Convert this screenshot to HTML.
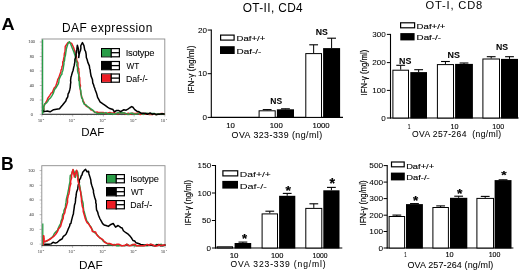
<!DOCTYPE html>
<html><head><meta charset="utf-8"><title>DAF figure</title>
<style>
html,body{margin:0;padding:0;background:#fff;width:520px;height:273px;overflow:hidden}
svg{display:block;filter:blur(0.3px)}
text{font-family:"Liberation Sans", sans-serif;}
</style></head><body>
<svg width="520" height="273" viewBox="0 0 520 273">
<rect x="0" y="0" width="520" height="273" fill="#fff"/>
<text x="1.54" y="30.40" font-size="17.39" font-weight="bold" textLength="13.15" lengthAdjust="spacingAndGlyphs" fill="#000" xml:space="preserve">A</text>
<text x="1.06" y="170.00" font-size="17.68" font-weight="bold" textLength="12.67" lengthAdjust="spacingAndGlyphs" fill="#000" xml:space="preserve">B</text>
<text x="62.05" y="32.20" font-size="11.86" textLength="90.21" lengthAdjust="spacing" fill="#000" xml:space="preserve">DAF expression</text>
<rect x="42" y="39" width="122.80000000000001" height="75.3" fill="none" stroke="#8c8c8c" stroke-width="0.9"/>
<text x="28.59" y="43.20" font-size="3.43" textLength="6.29" lengthAdjust="spacingAndGlyphs" fill="#6a6a6a" stroke="#6a6a6a" stroke-width="0.12" xml:space="preserve">100</text>
<line x1="39.80" y1="42.00" x2="42.00" y2="42.00" stroke="#888" stroke-width="0.6"/>
<text x="29.70" y="57.70" font-size="3.43" textLength="4.20" lengthAdjust="spacingAndGlyphs" fill="#6a6a6a" stroke="#6a6a6a" stroke-width="0.12" xml:space="preserve">80</text>
<line x1="39.80" y1="56.50" x2="42.00" y2="56.50" stroke="#888" stroke-width="0.6"/>
<text x="29.69" y="72.20" font-size="3.43" textLength="4.20" lengthAdjust="spacingAndGlyphs" fill="#6a6a6a" stroke="#6a6a6a" stroke-width="0.12" xml:space="preserve">60</text>
<line x1="39.80" y1="71.00" x2="42.00" y2="71.00" stroke="#888" stroke-width="0.6"/>
<text x="29.74" y="86.70" font-size="3.43" textLength="4.20" lengthAdjust="spacingAndGlyphs" fill="#6a6a6a" stroke="#6a6a6a" stroke-width="0.12" xml:space="preserve">40</text>
<line x1="39.80" y1="85.50" x2="42.00" y2="85.50" stroke="#888" stroke-width="0.6"/>
<text x="29.69" y="101.20" font-size="3.43" textLength="4.20" lengthAdjust="spacingAndGlyphs" fill="#6a6a6a" stroke="#6a6a6a" stroke-width="0.12" xml:space="preserve">20</text>
<line x1="39.80" y1="100.00" x2="42.00" y2="100.00" stroke="#888" stroke-width="0.6"/>
<text x="30.75" y="115.50" font-size="3.43" textLength="2.10" lengthAdjust="spacingAndGlyphs" fill="#6a6a6a" stroke="#6a6a6a" stroke-width="0.12" xml:space="preserve">0</text>
<line x1="39.80" y1="114.30" x2="42.00" y2="114.30" stroke="#888" stroke-width="0.6"/>
<line x1="40.70" y1="45.62" x2="42.00" y2="45.62" stroke="#aaa" stroke-width="0.5"/>
<line x1="40.70" y1="49.25" x2="42.00" y2="49.25" stroke="#aaa" stroke-width="0.5"/>
<line x1="40.70" y1="52.88" x2="42.00" y2="52.88" stroke="#aaa" stroke-width="0.5"/>
<line x1="40.70" y1="60.12" x2="42.00" y2="60.12" stroke="#aaa" stroke-width="0.5"/>
<line x1="40.70" y1="63.75" x2="42.00" y2="63.75" stroke="#aaa" stroke-width="0.5"/>
<line x1="40.70" y1="67.38" x2="42.00" y2="67.38" stroke="#aaa" stroke-width="0.5"/>
<line x1="40.70" y1="74.62" x2="42.00" y2="74.62" stroke="#aaa" stroke-width="0.5"/>
<line x1="40.70" y1="78.25" x2="42.00" y2="78.25" stroke="#aaa" stroke-width="0.5"/>
<line x1="40.70" y1="81.88" x2="42.00" y2="81.88" stroke="#aaa" stroke-width="0.5"/>
<line x1="40.70" y1="89.12" x2="42.00" y2="89.12" stroke="#aaa" stroke-width="0.5"/>
<line x1="40.70" y1="92.75" x2="42.00" y2="92.75" stroke="#aaa" stroke-width="0.5"/>
<line x1="40.70" y1="96.38" x2="42.00" y2="96.38" stroke="#aaa" stroke-width="0.5"/>
<line x1="40.70" y1="103.58" x2="42.00" y2="103.58" stroke="#aaa" stroke-width="0.5"/>
<line x1="40.70" y1="107.15" x2="42.00" y2="107.15" stroke="#aaa" stroke-width="0.5"/>
<line x1="40.70" y1="110.72" x2="42.00" y2="110.72" stroke="#aaa" stroke-width="0.5"/>
<text x="38.04" y="122.00" font-size="3.14" textLength="4.20" lengthAdjust="spacingAndGlyphs" fill="#7a7a7a" stroke="#7a7a7a" stroke-width="0.12" xml:space="preserve">10</text>
<text x="42.89" y="120.05" font-size="2.14" textLength="1.43" lengthAdjust="spacingAndGlyphs" fill="#7a7a7a" stroke="#7a7a7a" stroke-width="0.12" xml:space="preserve">0</text>
<line x1="42.00" y1="114.30" x2="42.00" y2="116.50" stroke="#888" stroke-width="0.6"/>
<line x1="51.24" y1="114.30" x2="51.24" y2="115.50" stroke="#aaa" stroke-width="0.5"/>
<line x1="56.65" y1="114.30" x2="56.65" y2="115.50" stroke="#aaa" stroke-width="0.5"/>
<line x1="60.48" y1="114.30" x2="60.48" y2="115.50" stroke="#aaa" stroke-width="0.5"/>
<line x1="63.46" y1="114.30" x2="63.46" y2="115.50" stroke="#aaa" stroke-width="0.5"/>
<line x1="65.89" y1="114.30" x2="65.89" y2="115.50" stroke="#aaa" stroke-width="0.5"/>
<line x1="67.94" y1="114.30" x2="67.94" y2="115.50" stroke="#aaa" stroke-width="0.5"/>
<line x1="69.72" y1="114.30" x2="69.72" y2="115.50" stroke="#aaa" stroke-width="0.5"/>
<line x1="71.30" y1="114.30" x2="71.30" y2="115.50" stroke="#aaa" stroke-width="0.5"/>
<text x="68.74" y="122.00" font-size="3.14" textLength="4.20" lengthAdjust="spacingAndGlyphs" fill="#7a7a7a" stroke="#7a7a7a" stroke-width="0.12" xml:space="preserve">10</text>
<text x="73.54" y="120.05" font-size="2.17" textLength="1.45" lengthAdjust="spacingAndGlyphs" fill="#7a7a7a" stroke="#7a7a7a" stroke-width="0.12" xml:space="preserve">1</text>
<line x1="72.70" y1="114.30" x2="72.70" y2="116.50" stroke="#888" stroke-width="0.6"/>
<line x1="81.94" y1="114.30" x2="81.94" y2="115.50" stroke="#aaa" stroke-width="0.5"/>
<line x1="87.35" y1="114.30" x2="87.35" y2="115.50" stroke="#aaa" stroke-width="0.5"/>
<line x1="91.18" y1="114.30" x2="91.18" y2="115.50" stroke="#aaa" stroke-width="0.5"/>
<line x1="94.16" y1="114.30" x2="94.16" y2="115.50" stroke="#aaa" stroke-width="0.5"/>
<line x1="96.59" y1="114.30" x2="96.59" y2="115.50" stroke="#aaa" stroke-width="0.5"/>
<line x1="98.64" y1="114.30" x2="98.64" y2="115.50" stroke="#aaa" stroke-width="0.5"/>
<line x1="100.42" y1="114.30" x2="100.42" y2="115.50" stroke="#aaa" stroke-width="0.5"/>
<line x1="102.00" y1="114.30" x2="102.00" y2="115.50" stroke="#aaa" stroke-width="0.5"/>
<text x="99.44" y="122.00" font-size="3.14" textLength="4.20" lengthAdjust="spacingAndGlyphs" fill="#7a7a7a" stroke="#7a7a7a" stroke-width="0.12" xml:space="preserve">10</text>
<text x="104.29" y="120.05" font-size="2.14" textLength="1.43" lengthAdjust="spacingAndGlyphs" fill="#7a7a7a" stroke="#7a7a7a" stroke-width="0.12" xml:space="preserve">2</text>
<line x1="103.40" y1="114.30" x2="103.40" y2="116.50" stroke="#888" stroke-width="0.6"/>
<line x1="112.64" y1="114.30" x2="112.64" y2="115.50" stroke="#aaa" stroke-width="0.5"/>
<line x1="118.05" y1="114.30" x2="118.05" y2="115.50" stroke="#aaa" stroke-width="0.5"/>
<line x1="121.88" y1="114.30" x2="121.88" y2="115.50" stroke="#aaa" stroke-width="0.5"/>
<line x1="124.86" y1="114.30" x2="124.86" y2="115.50" stroke="#aaa" stroke-width="0.5"/>
<line x1="127.29" y1="114.30" x2="127.29" y2="115.50" stroke="#aaa" stroke-width="0.5"/>
<line x1="129.34" y1="114.30" x2="129.34" y2="115.50" stroke="#aaa" stroke-width="0.5"/>
<line x1="131.12" y1="114.30" x2="131.12" y2="115.50" stroke="#aaa" stroke-width="0.5"/>
<line x1="132.70" y1="114.30" x2="132.70" y2="115.50" stroke="#aaa" stroke-width="0.5"/>
<text x="130.14" y="122.00" font-size="3.14" textLength="4.20" lengthAdjust="spacingAndGlyphs" fill="#7a7a7a" stroke="#7a7a7a" stroke-width="0.12" xml:space="preserve">10</text>
<text x="134.99" y="120.05" font-size="2.14" textLength="1.43" lengthAdjust="spacingAndGlyphs" fill="#7a7a7a" stroke="#7a7a7a" stroke-width="0.12" xml:space="preserve">3</text>
<line x1="134.10" y1="114.30" x2="134.10" y2="116.50" stroke="#888" stroke-width="0.6"/>
<line x1="143.34" y1="114.30" x2="143.34" y2="115.50" stroke="#aaa" stroke-width="0.5"/>
<line x1="148.75" y1="114.30" x2="148.75" y2="115.50" stroke="#aaa" stroke-width="0.5"/>
<line x1="152.58" y1="114.30" x2="152.58" y2="115.50" stroke="#aaa" stroke-width="0.5"/>
<line x1="155.56" y1="114.30" x2="155.56" y2="115.50" stroke="#aaa" stroke-width="0.5"/>
<line x1="157.99" y1="114.30" x2="157.99" y2="115.50" stroke="#aaa" stroke-width="0.5"/>
<line x1="160.04" y1="114.30" x2="160.04" y2="115.50" stroke="#aaa" stroke-width="0.5"/>
<line x1="161.82" y1="114.30" x2="161.82" y2="115.50" stroke="#aaa" stroke-width="0.5"/>
<line x1="163.40" y1="114.30" x2="163.40" y2="115.50" stroke="#aaa" stroke-width="0.5"/>
<text x="160.84" y="122.00" font-size="3.14" textLength="4.20" lengthAdjust="spacingAndGlyphs" fill="#7a7a7a" stroke="#7a7a7a" stroke-width="0.12" xml:space="preserve">10</text>
<text x="165.68" y="120.05" font-size="2.17" textLength="1.45" lengthAdjust="spacingAndGlyphs" fill="#7a7a7a" stroke="#7a7a7a" stroke-width="0.12" xml:space="preserve">4</text>
<line x1="164.80" y1="114.30" x2="164.80" y2="116.50" stroke="#888" stroke-width="0.6"/>
<line x1="42.00" y1="114.30" x2="164.80" y2="114.30" stroke="#333" stroke-width="1.0"/>
<polyline points="43.40,112.00 43.92,109.01 43.76,107.81 44.16,104.99 45.11,103.77 46.16,101.97 47.15,100.20 47.64,98.47 49.66,95.60 51.32,92.91 52.26,92.62 54.13,87.95 55.61,86.49 57.14,82.09 57.75,79.45 58.70,77.89 60.01,73.92 60.77,71.89 61.06,70.02 61.81,69.01 61.91,66.66 62.76,65.29 62.75,61.72 63.39,60.80 63.54,59.19 64.09,56.66 64.40,53.38 64.95,52.09 65.13,49.34 65.25,46.43 65.74,45.74 68.04,42.51 69.63,42.57 71.76,43.47 73.50,47.32 74.72,51.04 75.16,53.88 76.35,55.98 76.73,59.67 76.90,60.61 77.95,62.80 77.93,65.29 78.01,67.45 78.83,68.82 78.77,70.94 79.13,72.38 78.92,75.86 79.69,77.79 79.81,80.22 79.83,82.32 79.95,84.11 80.47,85.58 80.18,88.88 80.59,91.13 80.69,93.24 81.44,95.49 81.87,97.55 82.26,98.43 83.06,100.62 84.81,104.15 86.43,106.33 89.45,107.56 90.80,109.91 92.65,110.33 94.82,112.41 97.09,112.00 98.94,112.57 101.52,112.39 103.59,112.55 105.97,113.68 107.98,113.02 109.92,112.53 111.78,113.29 114.29,112.77 115.79,113.53 118.23,113.75 119.65,112.74 122.16,112.98 124.15,113.02 126.03,113.98 128.34,113.17 130.01,114.23 132.11,113.21 134.05,113.54 136.09,113.42 137.85,112.97 140.27,114.62 142.26,113.45 144.32,113.48 145.94,114.28 147.65,113.41 149.67,114.55 152.33,114.47 153.76,114.04 156.34,114.59 158.01,114.31 159.89,113.74 162.13,113.45 164.00,114.00" fill="none" stroke="#ee1c24" stroke-width="1.45" stroke-linejoin="round" stroke-linecap="round"/>
<polyline points="43.40,112.00 43.99,110.49 43.63,106.54 44.37,105.60 44.76,103.81 46.58,102.89 47.75,101.35 48.72,99.48 50.66,97.70 51.83,95.81 53.23,93.40 54.56,89.56 56.37,87.24 58.28,83.98 58.79,81.95 59.16,79.13 60.74,75.69 61.96,74.02 61.97,72.31 62.78,70.71 63.23,68.42 63.51,66.47 64.01,63.74 63.79,62.83 64.55,60.46 64.79,57.60 65.44,55.32 65.74,53.00 66.14,50.67 66.21,49.59 66.90,46.92 67.99,43.50 69.37,41.70 70.76,44.26 72.33,48.23 73.86,51.94 74.85,54.92 75.41,57.01 75.93,59.27 76.12,60.66 77.11,63.02 76.79,65.22 77.56,67.58 77.48,69.73 77.68,71.44 78.14,73.28 78.75,74.75 78.68,76.77 78.66,80.36 79.29,81.44 79.36,84.06 79.50,85.68 80.12,88.26 80.73,90.42 80.97,92.65 81.17,94.56 81.65,97.91 82.59,98.71 82.67,100.99 84.35,104.38 86.09,104.97 89.37,108.21 90.98,108.90 92.96,110.36 95.17,112.43 97.18,113.42 99.40,113.50 101.30,112.95 103.62,113.44 105.96,112.58 107.73,114.02 109.92,113.54 111.74,113.46 113.83,114.30 115.94,113.71 118.04,112.69 119.68,112.95 121.76,112.78 124.10,112.91 126.35,113.67 128.36,114.45 129.96,113.21 132.07,113.26 134.22,113.95 135.82,114.12 138.02,113.63 139.67,112.89 141.72,113.64 143.81,114.22 145.77,113.12 147.80,113.37 149.97,113.91 152.10,113.55 154.29,113.39 156.16,114.76 158.01,113.83 159.68,114.11 162.02,113.83 164.00,114.00" fill="none" stroke="#2a9d48" stroke-width="1.45" stroke-linejoin="round" stroke-linecap="round"/>
<polyline points="42.60,110.40 44.22,111.63 47.26,111.02 50.06,111.78 53.59,109.72 56.35,109.26 59.48,108.69 61.49,106.27 62.40,105.19 64.81,102.19 65.84,101.03 66.46,98.99 67.75,96.86 68.09,93.97 68.98,92.51 69.71,89.96 70.24,87.60 70.44,84.72 70.78,82.36 70.57,80.53 70.99,76.99 71.46,75.65 72.24,72.78 73.14,70.21 73.60,67.79 74.13,65.92 74.49,63.85 74.87,61.90 74.91,59.21 75.86,57.04 76.14,54.67 76.29,51.85 76.84,49.46 77.36,45.20 78.22,48.25 78.47,49.42 78.34,52.21 78.92,54.38 78.74,57.52 79.15,54.66 79.71,52.31 80.47,50.53 80.88,48.01 80.76,45.73 82.44,42.54 83.95,45.58 84.71,49.85 85.61,51.49 86.16,54.31 86.33,57.56 87.11,59.54 87.85,62.40 89.37,65.88 89.68,68.44 90.17,69.75 90.31,71.51 90.81,74.57 91.08,76.17 91.94,78.18 92.51,79.83 92.75,82.89 93.58,84.80 94.12,86.80 94.93,88.76 95.15,89.73 96.43,92.95 96.91,94.65 97.60,97.43 98.75,99.46 100.05,101.82 102.93,103.92 105.14,105.38 107.83,107.40 109.84,108.53 111.35,108.93 113.01,109.56 114.38,111.78 116.46,110.50 118.47,110.47 120.61,111.70 123.88,109.77 126.12,110.14 128.29,108.82 129.83,107.74 131.69,106.63 132.93,107.26 134.68,109.63 136.81,111.18 139.08,111.78 141.37,113.31 143.75,113.28 145.77,113.44 147.65,114.19 150.11,112.96 152.15,114.23 154.15,113.66 155.76,114.40 158.13,114.19 159.97,114.13 161.89,113.65 164.00,114.00" fill="none" stroke="#000" stroke-width="1.5" stroke-linejoin="round" stroke-linecap="round"/>
<line x1="42.60" y1="39.50" x2="42.60" y2="114.00" stroke="#2a9d48" stroke-width="1.3"/>
<rect x="101.60" y="48.60" width="17.80" height="8.20" fill="#fff" stroke="#000" stroke-width="1.2"/>
<rect x="102.00" y="49.00" width="9.00" height="7.40" fill="#2a9d48"/>
<line x1="111.20" y1="48.00" x2="111.20" y2="57.40" stroke="#000" stroke-width="1.3"/>
<line x1="111.00" y1="52.70" x2="120.00" y2="52.70" stroke="#000" stroke-width="1.3"/>
<text x="125.75" y="56.00" font-size="9.42" textLength="28.66" lengthAdjust="spacing" fill="#000" stroke="#000" stroke-width="0.05" xml:space="preserve">Isotype</text>
<rect x="101.60" y="61.50" width="17.80" height="8.20" fill="#fff" stroke="#000" stroke-width="1.2"/>
<rect x="102.00" y="61.90" width="9.00" height="7.40" fill="#000"/>
<line x1="111.20" y1="60.90" x2="111.20" y2="70.30" stroke="#000" stroke-width="1.3"/>
<line x1="111.00" y1="65.60" x2="120.00" y2="65.60" stroke="#000" stroke-width="1.3"/>
<text x="126.56" y="68.60" font-size="8.99" textLength="12.80" lengthAdjust="spacingAndGlyphs" fill="#000" stroke="#000" stroke-width="0.05" xml:space="preserve">WT</text>
<rect x="101.60" y="74.00" width="17.80" height="8.20" fill="#fff" stroke="#000" stroke-width="1.2"/>
<rect x="102.00" y="74.40" width="9.00" height="7.40" fill="#ee1c24"/>
<line x1="111.20" y1="73.40" x2="111.20" y2="82.80" stroke="#000" stroke-width="1.3"/>
<line x1="111.00" y1="78.10" x2="120.00" y2="78.10" stroke="#000" stroke-width="1.3"/>
<text x="125.90" y="81.60" font-size="8.83" textLength="21.90" lengthAdjust="spacingAndGlyphs" fill="#000" stroke="#000" stroke-width="0.05" xml:space="preserve">Daf-/-</text>
<text x="81.28" y="136.40" font-size="11.74" textLength="22.98" lengthAdjust="spacingAndGlyphs" fill="#000" xml:space="preserve">DAF</text>
<rect x="41.8" y="165.7" width="123.2" height="79.9" fill="none" stroke="#8c8c8c" stroke-width="0.9"/>
<text x="28.39" y="171.80" font-size="3.43" textLength="6.29" lengthAdjust="spacingAndGlyphs" fill="#6a6a6a" stroke="#6a6a6a" stroke-width="0.12" xml:space="preserve">100</text>
<line x1="39.60" y1="170.60" x2="41.80" y2="170.60" stroke="#888" stroke-width="0.6"/>
<text x="29.50" y="186.50" font-size="3.43" textLength="4.20" lengthAdjust="spacingAndGlyphs" fill="#6a6a6a" stroke="#6a6a6a" stroke-width="0.12" xml:space="preserve">80</text>
<line x1="39.60" y1="185.30" x2="41.80" y2="185.30" stroke="#888" stroke-width="0.6"/>
<text x="29.49" y="201.20" font-size="3.43" textLength="4.20" lengthAdjust="spacingAndGlyphs" fill="#6a6a6a" stroke="#6a6a6a" stroke-width="0.12" xml:space="preserve">60</text>
<line x1="39.60" y1="200.00" x2="41.80" y2="200.00" stroke="#888" stroke-width="0.6"/>
<text x="29.54" y="215.90" font-size="3.43" textLength="4.20" lengthAdjust="spacingAndGlyphs" fill="#6a6a6a" stroke="#6a6a6a" stroke-width="0.12" xml:space="preserve">40</text>
<line x1="39.60" y1="214.70" x2="41.80" y2="214.70" stroke="#888" stroke-width="0.6"/>
<text x="29.49" y="230.60" font-size="3.43" textLength="4.20" lengthAdjust="spacingAndGlyphs" fill="#6a6a6a" stroke="#6a6a6a" stroke-width="0.12" xml:space="preserve">20</text>
<line x1="39.60" y1="229.40" x2="41.80" y2="229.40" stroke="#888" stroke-width="0.6"/>
<text x="30.55" y="245.30" font-size="3.43" textLength="2.10" lengthAdjust="spacingAndGlyphs" fill="#6a6a6a" stroke="#6a6a6a" stroke-width="0.12" xml:space="preserve">0</text>
<line x1="39.60" y1="244.10" x2="41.80" y2="244.10" stroke="#888" stroke-width="0.6"/>
<line x1="40.50" y1="174.28" x2="41.80" y2="174.28" stroke="#aaa" stroke-width="0.5"/>
<line x1="40.50" y1="177.95" x2="41.80" y2="177.95" stroke="#aaa" stroke-width="0.5"/>
<line x1="40.50" y1="181.62" x2="41.80" y2="181.62" stroke="#aaa" stroke-width="0.5"/>
<line x1="40.50" y1="188.98" x2="41.80" y2="188.98" stroke="#aaa" stroke-width="0.5"/>
<line x1="40.50" y1="192.65" x2="41.80" y2="192.65" stroke="#aaa" stroke-width="0.5"/>
<line x1="40.50" y1="196.32" x2="41.80" y2="196.32" stroke="#aaa" stroke-width="0.5"/>
<line x1="40.50" y1="203.68" x2="41.80" y2="203.68" stroke="#aaa" stroke-width="0.5"/>
<line x1="40.50" y1="207.35" x2="41.80" y2="207.35" stroke="#aaa" stroke-width="0.5"/>
<line x1="40.50" y1="211.02" x2="41.80" y2="211.02" stroke="#aaa" stroke-width="0.5"/>
<line x1="40.50" y1="218.38" x2="41.80" y2="218.38" stroke="#aaa" stroke-width="0.5"/>
<line x1="40.50" y1="222.05" x2="41.80" y2="222.05" stroke="#aaa" stroke-width="0.5"/>
<line x1="40.50" y1="225.72" x2="41.80" y2="225.72" stroke="#aaa" stroke-width="0.5"/>
<line x1="40.50" y1="233.07" x2="41.80" y2="233.07" stroke="#aaa" stroke-width="0.5"/>
<line x1="40.50" y1="236.75" x2="41.80" y2="236.75" stroke="#aaa" stroke-width="0.5"/>
<line x1="40.50" y1="240.43" x2="41.80" y2="240.43" stroke="#aaa" stroke-width="0.5"/>
<text x="37.84" y="253.30" font-size="3.14" textLength="4.20" lengthAdjust="spacingAndGlyphs" fill="#7a7a7a" stroke="#7a7a7a" stroke-width="0.12" xml:space="preserve">10</text>
<text x="42.69" y="251.35" font-size="2.14" textLength="1.43" lengthAdjust="spacingAndGlyphs" fill="#7a7a7a" stroke="#7a7a7a" stroke-width="0.12" xml:space="preserve">0</text>
<line x1="41.80" y1="245.60" x2="41.80" y2="247.80" stroke="#888" stroke-width="0.6"/>
<line x1="51.07" y1="245.60" x2="51.07" y2="246.80" stroke="#aaa" stroke-width="0.5"/>
<line x1="56.50" y1="245.60" x2="56.50" y2="246.80" stroke="#aaa" stroke-width="0.5"/>
<line x1="60.34" y1="245.60" x2="60.34" y2="246.80" stroke="#aaa" stroke-width="0.5"/>
<line x1="63.33" y1="245.60" x2="63.33" y2="246.80" stroke="#aaa" stroke-width="0.5"/>
<line x1="65.77" y1="245.60" x2="65.77" y2="246.80" stroke="#aaa" stroke-width="0.5"/>
<line x1="67.83" y1="245.60" x2="67.83" y2="246.80" stroke="#aaa" stroke-width="0.5"/>
<line x1="69.62" y1="245.60" x2="69.62" y2="246.80" stroke="#aaa" stroke-width="0.5"/>
<line x1="71.19" y1="245.60" x2="71.19" y2="246.80" stroke="#aaa" stroke-width="0.5"/>
<text x="68.64" y="253.30" font-size="3.14" textLength="4.20" lengthAdjust="spacingAndGlyphs" fill="#7a7a7a" stroke="#7a7a7a" stroke-width="0.12" xml:space="preserve">10</text>
<text x="73.44" y="251.35" font-size="2.17" textLength="1.45" lengthAdjust="spacingAndGlyphs" fill="#7a7a7a" stroke="#7a7a7a" stroke-width="0.12" xml:space="preserve">1</text>
<line x1="72.60" y1="245.60" x2="72.60" y2="247.80" stroke="#888" stroke-width="0.6"/>
<line x1="81.87" y1="245.60" x2="81.87" y2="246.80" stroke="#aaa" stroke-width="0.5"/>
<line x1="87.30" y1="245.60" x2="87.30" y2="246.80" stroke="#aaa" stroke-width="0.5"/>
<line x1="91.14" y1="245.60" x2="91.14" y2="246.80" stroke="#aaa" stroke-width="0.5"/>
<line x1="94.13" y1="245.60" x2="94.13" y2="246.80" stroke="#aaa" stroke-width="0.5"/>
<line x1="96.57" y1="245.60" x2="96.57" y2="246.80" stroke="#aaa" stroke-width="0.5"/>
<line x1="98.63" y1="245.60" x2="98.63" y2="246.80" stroke="#aaa" stroke-width="0.5"/>
<line x1="100.42" y1="245.60" x2="100.42" y2="246.80" stroke="#aaa" stroke-width="0.5"/>
<line x1="101.99" y1="245.60" x2="101.99" y2="246.80" stroke="#aaa" stroke-width="0.5"/>
<text x="99.44" y="253.30" font-size="3.14" textLength="4.20" lengthAdjust="spacingAndGlyphs" fill="#7a7a7a" stroke="#7a7a7a" stroke-width="0.12" xml:space="preserve">10</text>
<text x="104.29" y="251.35" font-size="2.14" textLength="1.43" lengthAdjust="spacingAndGlyphs" fill="#7a7a7a" stroke="#7a7a7a" stroke-width="0.12" xml:space="preserve">2</text>
<line x1="103.40" y1="245.60" x2="103.40" y2="247.80" stroke="#888" stroke-width="0.6"/>
<line x1="112.67" y1="245.60" x2="112.67" y2="246.80" stroke="#aaa" stroke-width="0.5"/>
<line x1="118.10" y1="245.60" x2="118.10" y2="246.80" stroke="#aaa" stroke-width="0.5"/>
<line x1="121.94" y1="245.60" x2="121.94" y2="246.80" stroke="#aaa" stroke-width="0.5"/>
<line x1="124.93" y1="245.60" x2="124.93" y2="246.80" stroke="#aaa" stroke-width="0.5"/>
<line x1="127.37" y1="245.60" x2="127.37" y2="246.80" stroke="#aaa" stroke-width="0.5"/>
<line x1="129.43" y1="245.60" x2="129.43" y2="246.80" stroke="#aaa" stroke-width="0.5"/>
<line x1="131.22" y1="245.60" x2="131.22" y2="246.80" stroke="#aaa" stroke-width="0.5"/>
<line x1="132.79" y1="245.60" x2="132.79" y2="246.80" stroke="#aaa" stroke-width="0.5"/>
<text x="130.24" y="253.30" font-size="3.14" textLength="4.20" lengthAdjust="spacingAndGlyphs" fill="#7a7a7a" stroke="#7a7a7a" stroke-width="0.12" xml:space="preserve">10</text>
<text x="135.09" y="251.35" font-size="2.14" textLength="1.43" lengthAdjust="spacingAndGlyphs" fill="#7a7a7a" stroke="#7a7a7a" stroke-width="0.12" xml:space="preserve">3</text>
<line x1="134.20" y1="245.60" x2="134.20" y2="247.80" stroke="#888" stroke-width="0.6"/>
<line x1="143.47" y1="245.60" x2="143.47" y2="246.80" stroke="#aaa" stroke-width="0.5"/>
<line x1="148.90" y1="245.60" x2="148.90" y2="246.80" stroke="#aaa" stroke-width="0.5"/>
<line x1="152.74" y1="245.60" x2="152.74" y2="246.80" stroke="#aaa" stroke-width="0.5"/>
<line x1="155.73" y1="245.60" x2="155.73" y2="246.80" stroke="#aaa" stroke-width="0.5"/>
<line x1="158.17" y1="245.60" x2="158.17" y2="246.80" stroke="#aaa" stroke-width="0.5"/>
<line x1="160.23" y1="245.60" x2="160.23" y2="246.80" stroke="#aaa" stroke-width="0.5"/>
<line x1="162.02" y1="245.60" x2="162.02" y2="246.80" stroke="#aaa" stroke-width="0.5"/>
<line x1="163.59" y1="245.60" x2="163.59" y2="246.80" stroke="#aaa" stroke-width="0.5"/>
<text x="161.04" y="253.30" font-size="3.14" textLength="4.20" lengthAdjust="spacingAndGlyphs" fill="#7a7a7a" stroke="#7a7a7a" stroke-width="0.12" xml:space="preserve">10</text>
<text x="165.88" y="251.35" font-size="2.17" textLength="1.45" lengthAdjust="spacingAndGlyphs" fill="#7a7a7a" stroke="#7a7a7a" stroke-width="0.12" xml:space="preserve">4</text>
<line x1="165.00" y1="245.60" x2="165.00" y2="247.80" stroke="#888" stroke-width="0.6"/>
<line x1="41.80" y1="245.60" x2="165.00" y2="245.60" stroke="#333" stroke-width="1.0"/>
<polyline points="43.60,236.00 43.25,237.82 43.22,240.41 43.33,242.12 46.82,241.25 49.60,239.38 52.84,236.57 54.37,233.46 56.61,231.09 57.59,230.23 58.21,228.21 59.59,225.36 60.62,223.62 60.94,221.38 62.22,218.39 62.37,216.21 62.80,214.15 63.86,212.98 63.96,210.29 64.69,208.94 65.42,206.89 65.64,204.22 66.05,202.13 66.36,199.09 66.60,198.20 67.46,194.75 67.82,193.10 68.19,191.01 68.58,189.53 69.09,186.04 69.38,184.44 69.96,181.94 70.06,179.88 69.97,178.93 70.30,175.41 71.52,174.74 72.25,171.86 73.27,169.82 74.34,172.38 75.43,177.41 75.93,174.87 75.95,171.33 77.20,171.04 77.82,172.54 78.23,175.42 78.18,177.16 78.54,179.77 79.53,181.99 79.22,183.90 79.71,185.38 80.23,188.71 80.41,189.82 81.05,193.40 81.18,194.34 81.66,196.40 81.95,199.85 82.49,201.04 83.16,203.75 83.22,205.69 83.53,209.03 83.98,211.58 84.44,212.60 84.94,214.60 85.78,217.35 86.80,221.00 87.92,222.16 89.19,224.74 90.97,226.92 91.73,228.56 93.45,231.77 95.93,233.58 97.46,235.17 98.88,236.72 99.81,237.84 101.77,238.98 103.56,241.57 105.11,241.91 107.30,243.74 109.42,244.77 112.18,244.83 115.00,244.48 116.41,245.73 119.06,245.76 120.41,245.23 122.48,245.65 124.88,245.78 126.53,244.16 128.83,245.20 131.10,245.41 132.45,244.47 134.47,245.74 136.56,245.67 139.05,245.55 140.89,245.68 142.65,245.69 144.76,245.33 147.09,245.73 148.92,244.98 150.58,244.19 152.92,245.22 155.02,245.72 156.85,244.42 158.98,245.56 161.22,244.20 162.69,245.68 165.00,245.10" fill="none" stroke="#2a9d48" stroke-width="1.45" stroke-linejoin="round" stroke-linecap="round"/>
<polyline points="44.50,244.30 46.79,244.23 49.05,244.24 51.17,243.88 53.04,242.21 55.33,243.14 57.15,242.54 59.64,240.25 62.25,238.77 63.35,236.29 65.13,235.08 65.98,234.23 67.07,231.88 68.16,229.19 69.74,225.80 69.92,224.11 70.94,223.32 71.60,220.19 72.01,218.56 72.78,215.60 73.40,213.96 73.57,211.85 74.09,208.58 74.47,205.33 75.27,202.68 75.55,200.21 75.55,198.74 75.89,197.51 76.25,194.71 76.35,193.33 76.69,191.76 77.72,188.90 78.18,185.23 78.82,183.35 79.24,180.35 80.59,178.19 81.16,176.01 81.98,174.99 82.71,172.20 84.08,170.64 85.56,169.27 87.03,171.78 88.59,171.26 88.95,173.95 90.07,177.38 90.77,179.84 91.08,183.07 91.74,185.31 92.48,187.53 93.52,190.70 93.41,192.06 94.22,195.58 94.73,197.55 95.81,200.75 95.75,202.66 96.27,204.16 96.20,206.25 96.56,209.87 97.69,212.04 98.18,214.21 98.81,216.02 99.92,218.74 101.02,220.72 102.63,223.60 104.12,224.91 106.05,225.48 108.37,226.37 110.87,224.45 113.21,223.50 115.58,227.14 118.10,225.50 120.65,227.44 122.14,228.05 123.38,230.78 125.92,232.74 128.47,234.46 130.43,236.58 131.54,238.05 132.92,240.43 134.69,240.97 136.05,242.84 139.23,243.72 140.61,244.50 142.74,244.86 144.77,245.17 146.72,244.71 148.88,245.35 150.93,244.74 152.87,245.59 155.08,245.78 156.85,245.06 159.09,244.52 160.90,245.77 163.10,245.39 165.00,245.10" fill="none" stroke="#000" stroke-width="1.5" stroke-linejoin="round" stroke-linecap="round"/>
<polyline points="43.60,236.00 44.13,238.76 44.03,240.44 44.62,241.80 47.89,240.25 51.09,238.47 54.32,235.89 55.69,234.26 57.53,231.47 58.51,228.88 59.36,228.02 60.73,226.05 61.35,223.62 62.55,219.77 63.16,218.55 63.48,215.27 64.05,214.24 64.76,212.81 65.31,209.46 66.04,207.75 66.28,206.74 66.94,204.26 67.54,202.30 67.50,198.65 67.89,197.62 68.17,195.53 68.92,193.98 69.52,190.18 69.68,188.10 70.14,185.97 70.90,183.48 70.53,182.36 70.77,180.50 71.65,177.70 71.46,176.22 72.02,172.88 72.96,169.53 73.44,172.20 74.33,176.94 74.72,175.12 75.68,172.86 76.58,170.31 77.04,172.40 77.31,175.53 77.85,177.28 77.80,179.50 78.33,182.44 79.08,183.98 78.91,185.41 79.69,187.32 79.82,189.75 80.71,192.25 80.74,194.23 81.28,197.68 81.48,198.92 81.54,201.63 81.96,203.78 82.37,206.72 83.24,208.62 83.21,211.26 83.67,213.05 84.29,215.05 85.11,218.13 85.74,219.82 87.08,222.71 88.90,224.15 90.16,226.50 91.67,228.75 92.38,231.44 95.62,231.95 96.59,234.45 98.23,236.51 99.73,237.74 101.40,238.78 103.34,240.21 104.74,242.39 106.91,243.43 109.50,243.49 112.34,244.48 114.84,245.13 116.95,244.24 118.81,244.17 121.03,245.66 122.71,245.64 124.97,245.29 127.09,244.29 128.74,245.69 130.76,245.47 132.96,244.57 135.04,244.19 136.68,245.85 138.54,245.79 140.70,245.65 142.82,245.85 144.54,245.78 147.12,244.28 148.93,245.29 150.68,244.20 152.61,244.82 155.13,245.95 157.10,245.88 158.66,244.79 160.70,245.50 162.96,245.18 165.00,245.10" fill="none" stroke="#ee1c24" stroke-width="1.5" stroke-linejoin="round" stroke-linecap="round"/>
<line x1="42.80" y1="223.40" x2="42.80" y2="245.30" stroke="#2a9d48" stroke-width="1.3"/>
<line x1="43.50" y1="235.00" x2="43.50" y2="245.30" stroke="#ee1c24" stroke-width="1.3"/>
<rect x="106.60" y="174.60" width="17.80" height="8.20" fill="#fff" stroke="#000" stroke-width="1.2"/>
<rect x="107.00" y="175.00" width="9.00" height="7.40" fill="#2a9d48"/>
<line x1="116.20" y1="174.00" x2="116.20" y2="183.40" stroke="#000" stroke-width="1.3"/>
<line x1="116.00" y1="178.70" x2="125.00" y2="178.70" stroke="#000" stroke-width="1.3"/>
<text x="130.17" y="181.70" font-size="9.28" textLength="28.64" lengthAdjust="spacing" fill="#000" stroke="#000" stroke-width="0.05" xml:space="preserve">Isotype</text>
<rect x="106.60" y="187.60" width="17.80" height="8.20" fill="#fff" stroke="#000" stroke-width="1.2"/>
<rect x="107.00" y="188.00" width="9.00" height="7.40" fill="#000"/>
<line x1="116.20" y1="187.00" x2="116.20" y2="196.40" stroke="#000" stroke-width="1.3"/>
<line x1="116.00" y1="191.70" x2="125.00" y2="191.70" stroke="#000" stroke-width="1.3"/>
<text x="130.96" y="194.60" font-size="9.13" textLength="12.80" lengthAdjust="spacingAndGlyphs" fill="#000" stroke="#000" stroke-width="0.05" xml:space="preserve">WT</text>
<rect x="106.60" y="200.60" width="17.80" height="8.20" fill="#fff" stroke="#000" stroke-width="1.2"/>
<rect x="107.00" y="201.00" width="9.00" height="7.40" fill="#ee1c24"/>
<line x1="116.20" y1="200.00" x2="116.20" y2="209.40" stroke="#000" stroke-width="1.3"/>
<line x1="116.00" y1="204.70" x2="125.00" y2="204.70" stroke="#000" stroke-width="1.3"/>
<text x="130.30" y="207.60" font-size="8.83" textLength="21.90" lengthAdjust="spacingAndGlyphs" fill="#000" stroke="#000" stroke-width="0.05" xml:space="preserve">Daf-/-</text>
<text x="79.06" y="268.70" font-size="11.74" textLength="23.62" lengthAdjust="spacingAndGlyphs" fill="#000" xml:space="preserve">DAF</text>
<line x1="211.30" y1="29.55" x2="211.30" y2="117.90" stroke="#000" stroke-width="1.1"/>
<line x1="210.80" y1="117.40" x2="343.00" y2="117.40" stroke="#000" stroke-width="1.1"/>
<line x1="207.70" y1="30.05" x2="211.30" y2="30.05" stroke="#000" stroke-width="1.0"/>
<text x="198.13" y="32.70" font-size="7.57" textLength="9.01" lengthAdjust="spacingAndGlyphs" fill="#000" stroke="#000" stroke-width="0.05" xml:space="preserve">20</text>
<line x1="207.70" y1="73.70" x2="211.30" y2="73.70" stroke="#000" stroke-width="1.0"/>
<text x="198.13" y="76.35" font-size="7.57" textLength="9.01" lengthAdjust="spacingAndGlyphs" fill="#000" stroke="#000" stroke-width="0.05" xml:space="preserve">10</text>
<line x1="207.70" y1="117.40" x2="211.30" y2="117.40" stroke="#000" stroke-width="1.0"/>
<text x="202.63" y="120.05" font-size="7.57" textLength="4.51" lengthAdjust="spacingAndGlyphs" fill="#000" stroke="#000" stroke-width="0.05" xml:space="preserve">0</text>
<line x1="267.15" y1="109.60" x2="267.15" y2="110.30" stroke="#000" stroke-width="1.0"/>
<line x1="262.75" y1="109.60" x2="271.55" y2="109.60" stroke="#000" stroke-width="1.1"/>
<line x1="285.45" y1="108.80" x2="285.45" y2="109.30" stroke="#000" stroke-width="1.0"/>
<line x1="281.05" y1="108.80" x2="289.85" y2="108.80" stroke="#000" stroke-width="1.1"/>
<rect x="259.10" y="110.80" width="16.10" height="6.60" fill="#fff" stroke="#000" stroke-width="1.0"/>
<rect x="276.90" y="109.30" width="17.10" height="8.60" fill="#000"/>
<text x="270.35" y="104.30" font-size="9.14" font-weight="bold" textLength="11.78" lengthAdjust="spacingAndGlyphs" fill="#000" stroke="#000" stroke-width="0.05" xml:space="preserve">NS</text>
<line x1="313.65" y1="44.80" x2="313.65" y2="53.10" stroke="#000" stroke-width="1.0"/>
<line x1="309.25" y1="44.80" x2="318.05" y2="44.80" stroke="#000" stroke-width="1.1"/>
<line x1="331.60" y1="38.20" x2="331.60" y2="48.10" stroke="#000" stroke-width="1.0"/>
<line x1="327.20" y1="38.20" x2="336.00" y2="38.20" stroke="#000" stroke-width="1.1"/>
<rect x="305.80" y="53.60" width="15.70" height="63.80" fill="#fff" stroke="#000" stroke-width="1.0"/>
<rect x="323.10" y="48.10" width="17.00" height="69.80" fill="#000"/>
<text x="315.63" y="34.60" font-size="8.71" font-weight="bold" textLength="12.11" lengthAdjust="spacingAndGlyphs" fill="#000" stroke="#000" stroke-width="0.05" xml:space="preserve">NS</text>
<rect x="220.60" y="35.10" width="13.50" height="5.00" fill="#fff" stroke="#000" stroke-width="1.2"/>
<rect x="220.00" y="46.20" width="14.70" height="7.80" fill="#000"/>
<text x="236.53" y="41.40" font-size="7.17" textLength="28.71" lengthAdjust="spacingAndGlyphs" fill="#000" stroke="#000" stroke-width="0.12" xml:space="preserve">Daf+/+</text>
<text x="236.51" y="53.60" font-size="7.17" textLength="24.74" lengthAdjust="spacingAndGlyphs" fill="#000" stroke="#000" stroke-width="0.12" xml:space="preserve">Daf-/-</text>
<text x="242.67" y="12.30" font-size="11.86" textLength="60.03" lengthAdjust="spacing" fill="#000" xml:space="preserve">OT-II, CD4</text>
<text x="0" y="0" font-size="9.30" textLength="48.17" lengthAdjust="spacingAndGlyphs" stroke="#000" stroke-width="0.15" transform="translate(194.05,93.74) rotate(-90)">IFN-γ (ng/ml)</text>
<text x="226.21" y="127.70" font-size="7.29" textLength="8.72" lengthAdjust="spacingAndGlyphs" fill="#000" stroke="#000" stroke-width="0.12" xml:space="preserve">10</text>
<text x="269.71" y="127.70" font-size="7.29" textLength="13.03" lengthAdjust="spacingAndGlyphs" fill="#000" stroke="#000" stroke-width="0.12" xml:space="preserve">100</text>
<text x="312.42" y="127.70" font-size="7.29" textLength="17.29" lengthAdjust="spacingAndGlyphs" fill="#000" stroke="#000" stroke-width="0.12" xml:space="preserve">1000</text>
<text x="231.60" y="137.60" font-size="8.83" textLength="90.57" lengthAdjust="spacing" fill="#000" stroke="#000" stroke-width="0.05" xml:space="preserve">OVA 323-339 (ng/ml)</text>
<line x1="390.50" y1="33.90" x2="390.50" y2="118.50" stroke="#000" stroke-width="1.1"/>
<line x1="390.00" y1="118.00" x2="518.70" y2="118.00" stroke="#000" stroke-width="1.1"/>
<line x1="386.90" y1="34.40" x2="390.50" y2="34.40" stroke="#000" stroke-width="1.0"/>
<text x="372.34" y="37.05" font-size="7.57" textLength="13.52" lengthAdjust="spacingAndGlyphs" fill="#000" stroke="#000" stroke-width="0.05" xml:space="preserve">300</text>
<line x1="386.90" y1="62.60" x2="390.50" y2="62.60" stroke="#000" stroke-width="1.0"/>
<text x="372.34" y="65.25" font-size="7.57" textLength="13.52" lengthAdjust="spacingAndGlyphs" fill="#000" stroke="#000" stroke-width="0.05" xml:space="preserve">200</text>
<line x1="386.90" y1="90.40" x2="390.50" y2="90.40" stroke="#000" stroke-width="1.0"/>
<text x="372.34" y="93.05" font-size="7.57" textLength="13.52" lengthAdjust="spacingAndGlyphs" fill="#000" stroke="#000" stroke-width="0.05" xml:space="preserve">100</text>
<line x1="386.90" y1="118.00" x2="390.50" y2="118.00" stroke="#000" stroke-width="1.0"/>
<text x="381.33" y="120.65" font-size="7.57" textLength="4.51" lengthAdjust="spacingAndGlyphs" fill="#000" stroke="#000" stroke-width="0.05" xml:space="preserve">0</text>
<line x1="400.70" y1="65.30" x2="400.70" y2="69.70" stroke="#000" stroke-width="1.0"/>
<line x1="396.30" y1="65.30" x2="405.10" y2="65.30" stroke="#000" stroke-width="1.1"/>
<line x1="418.65" y1="69.70" x2="418.65" y2="72.10" stroke="#000" stroke-width="1.0"/>
<line x1="414.25" y1="69.70" x2="423.05" y2="69.70" stroke="#000" stroke-width="1.1"/>
<rect x="392.90" y="70.20" width="15.60" height="47.80" fill="#fff" stroke="#000" stroke-width="1.0"/>
<rect x="410.30" y="72.10" width="16.70" height="46.40" fill="#000"/>
<text x="399.12" y="63.60" font-size="9.14" font-weight="bold" textLength="12.32" lengthAdjust="spacingAndGlyphs" fill="#000" stroke="#000" stroke-width="0.05" xml:space="preserve">NS</text>
<line x1="445.45" y1="61.50" x2="445.45" y2="64.10" stroke="#000" stroke-width="1.0"/>
<line x1="441.05" y1="61.50" x2="449.85" y2="61.50" stroke="#000" stroke-width="1.1"/>
<line x1="464.00" y1="63.00" x2="464.00" y2="63.90" stroke="#000" stroke-width="1.0"/>
<line x1="459.60" y1="63.00" x2="468.40" y2="63.00" stroke="#000" stroke-width="1.1"/>
<rect x="437.40" y="64.60" width="16.10" height="53.40" fill="#fff" stroke="#000" stroke-width="1.0"/>
<rect x="455.10" y="63.90" width="17.80" height="54.60" fill="#000"/>
<text x="447.62" y="57.60" font-size="9.14" font-weight="bold" textLength="12.43" lengthAdjust="spacingAndGlyphs" fill="#000" stroke="#000" stroke-width="0.05" xml:space="preserve">NS</text>
<line x1="491.20" y1="56.70" x2="491.20" y2="58.50" stroke="#000" stroke-width="1.0"/>
<line x1="486.80" y1="56.70" x2="495.60" y2="56.70" stroke="#000" stroke-width="1.1"/>
<line x1="509.50" y1="56.70" x2="509.50" y2="58.90" stroke="#000" stroke-width="1.0"/>
<line x1="505.10" y1="56.70" x2="513.90" y2="56.70" stroke="#000" stroke-width="1.1"/>
<rect x="482.90" y="59.00" width="16.60" height="59.00" fill="#fff" stroke="#000" stroke-width="1.0"/>
<rect x="501.00" y="58.90" width="17.00" height="59.60" fill="#000"/>
<text x="495.93" y="49.60" font-size="9.14" font-weight="bold" textLength="12.11" lengthAdjust="spacingAndGlyphs" fill="#000" stroke="#000" stroke-width="0.05" xml:space="preserve">NS</text>
<rect x="400.60" y="22.80" width="14.00" height="5.00" fill="#fff" stroke="#000" stroke-width="1.2"/>
<rect x="400.30" y="33.10" width="14.30" height="7.30" fill="#000"/>
<text x="416.63" y="28.90" font-size="6.62" textLength="28.82" lengthAdjust="spacingAndGlyphs" fill="#000" stroke="#000" stroke-width="0.12" xml:space="preserve">Daf+/+</text>
<text x="416.62" y="40.30" font-size="6.76" textLength="24.42" lengthAdjust="spacingAndGlyphs" fill="#000" stroke="#000" stroke-width="0.12" xml:space="preserve">Daf-/-</text>
<text x="425.40" y="8.80" font-size="11.14" textLength="56.85" lengthAdjust="spacing" fill="#000" xml:space="preserve">OT-I, CD8</text>
<text x="0" y="0" font-size="8.77" textLength="45.80" lengthAdjust="spacingAndGlyphs" stroke="#000" stroke-width="0.15" transform="translate(367.06,95.41) rotate(-90)">IFN-γ (ng/ml)</text>
<text x="407.63" y="128.50" font-size="7.39" textLength="2.72" lengthAdjust="spacingAndGlyphs" fill="#000" stroke="#000" stroke-width="0.12" xml:space="preserve">1</text>
<text x="450.46" y="128.50" font-size="7.29" textLength="8.05" lengthAdjust="spacingAndGlyphs" fill="#000" stroke="#000" stroke-width="0.12" xml:space="preserve">10</text>
<text x="492.37" y="128.50" font-size="7.29" textLength="11.84" lengthAdjust="spacingAndGlyphs" fill="#000" stroke="#000" stroke-width="0.12" xml:space="preserve">100</text>
<text x="411.92" y="137.10" font-size="8.55" textLength="89.22" lengthAdjust="spacing" fill="#000" stroke="#000" stroke-width="0.05" xml:space="preserve">OVA 257-264  (ng/ml)</text>
<line x1="215.50" y1="165.00" x2="215.50" y2="248.50" stroke="#000" stroke-width="1.1"/>
<line x1="215.00" y1="248.00" x2="342.30" y2="248.00" stroke="#000" stroke-width="1.1"/>
<line x1="211.90" y1="165.50" x2="215.50" y2="165.50" stroke="#000" stroke-width="1.0"/>
<text x="197.64" y="168.15" font-size="7.57" textLength="13.52" lengthAdjust="spacingAndGlyphs" fill="#000" stroke="#000" stroke-width="0.05" xml:space="preserve">150</text>
<line x1="211.90" y1="193.00" x2="215.50" y2="193.00" stroke="#000" stroke-width="1.0"/>
<text x="197.64" y="195.65" font-size="7.57" textLength="13.52" lengthAdjust="spacingAndGlyphs" fill="#000" stroke="#000" stroke-width="0.05" xml:space="preserve">100</text>
<line x1="211.90" y1="220.50" x2="215.50" y2="220.50" stroke="#000" stroke-width="1.0"/>
<text x="202.13" y="223.15" font-size="7.57" textLength="9.01" lengthAdjust="spacingAndGlyphs" fill="#000" stroke="#000" stroke-width="0.05" xml:space="preserve">50</text>
<line x1="211.90" y1="248.00" x2="215.50" y2="248.00" stroke="#000" stroke-width="1.0"/>
<text x="206.63" y="250.65" font-size="7.57" textLength="4.51" lengthAdjust="spacingAndGlyphs" fill="#000" stroke="#000" stroke-width="0.05" xml:space="preserve">0</text>
<line x1="242.90" y1="242.10" x2="242.90" y2="243.00" stroke="#000" stroke-width="1.0"/>
<line x1="238.50" y1="242.10" x2="247.30" y2="242.10" stroke="#000" stroke-width="1.1"/>
<rect x="217.10" y="246.80" width="15.40" height="1.20" fill="#fff" stroke="#000" stroke-width="1.0"/>
<rect x="234.60" y="243.00" width="16.60" height="5.50" fill="#000"/>
<text x="242.03" y="243.06" font-size="12.70" font-weight="bold" textLength="5.12" lengthAdjust="spacingAndGlyphs" stroke="#000" stroke-width="0.2">*</text>
<line x1="269.80" y1="211.20" x2="269.80" y2="213.40" stroke="#000" stroke-width="1.0"/>
<line x1="265.40" y1="211.20" x2="274.20" y2="211.20" stroke="#000" stroke-width="1.1"/>
<line x1="287.20" y1="193.40" x2="287.20" y2="195.80" stroke="#000" stroke-width="1.0"/>
<line x1="282.80" y1="193.40" x2="291.60" y2="193.40" stroke="#000" stroke-width="1.1"/>
<rect x="262.10" y="213.90" width="15.40" height="34.10" fill="#fff" stroke="#000" stroke-width="1.0"/>
<rect x="279.10" y="195.80" width="16.20" height="52.70" fill="#000"/>
<text x="285.43" y="194.68" font-size="12.43" font-weight="bold" textLength="5.43" lengthAdjust="spacingAndGlyphs" stroke="#000" stroke-width="0.2">*</text>
<line x1="313.80" y1="203.80" x2="313.80" y2="207.90" stroke="#000" stroke-width="1.0"/>
<line x1="309.40" y1="203.80" x2="318.20" y2="203.80" stroke="#000" stroke-width="1.1"/>
<line x1="331.40" y1="187.40" x2="331.40" y2="190.30" stroke="#000" stroke-width="1.0"/>
<line x1="327.00" y1="187.40" x2="335.80" y2="187.40" stroke="#000" stroke-width="1.1"/>
<rect x="305.80" y="208.40" width="16.00" height="39.60" fill="#fff" stroke="#000" stroke-width="1.0"/>
<rect x="323.30" y="190.30" width="16.20" height="58.20" fill="#000"/>
<text x="329.63" y="187.71" font-size="13.78" font-weight="bold" textLength="5.53" lengthAdjust="spacingAndGlyphs" stroke="#000" stroke-width="0.2">*</text>
<rect x="222.90" y="170.80" width="14.80" height="5.10" fill="#fff" stroke="#000" stroke-width="1.2"/>
<rect x="222.30" y="180.90" width="15.70" height="7.70" fill="#000"/>
<text x="239.77" y="177.30" font-size="7.59" textLength="31.12" lengthAdjust="spacingAndGlyphs" fill="#000" stroke="#000" stroke-width="0.05" xml:space="preserve">Daf+/+</text>
<text x="239.73" y="188.50" font-size="7.59" textLength="27.05" lengthAdjust="spacingAndGlyphs" fill="#000" stroke="#000" stroke-width="0.05" xml:space="preserve">Daf-/-</text>
<text x="0" y="0" font-size="9.30" textLength="45.60" lengthAdjust="spacingAndGlyphs" stroke="#000" stroke-width="0.15" transform="translate(190.55,225.50) rotate(-90)">IFN-γ (ng/ml)</text>
<text x="229.70" y="257.60" font-size="6.43" textLength="8.83" lengthAdjust="spacingAndGlyphs" fill="#000" stroke="#000" stroke-width="0.12" xml:space="preserve">10</text>
<text x="270.94" y="257.60" font-size="6.43" textLength="12.38" lengthAdjust="spacingAndGlyphs" fill="#000" stroke="#000" stroke-width="0.12" xml:space="preserve">100</text>
<text x="312.49" y="257.60" font-size="6.43" textLength="15.08" lengthAdjust="spacingAndGlyphs" fill="#000" stroke="#000" stroke-width="0.12" xml:space="preserve">1000</text>
<text x="230.62" y="267.20" font-size="8.55" textLength="94.94" lengthAdjust="spacing" fill="#000" stroke="#000" stroke-width="0.05" xml:space="preserve">OVA 323-339 (ng/ml)</text>
<line x1="387.20" y1="165.10" x2="387.20" y2="248.50" stroke="#000" stroke-width="1.1"/>
<line x1="386.70" y1="248.00" x2="513.40" y2="248.00" stroke="#000" stroke-width="1.1"/>
<line x1="383.60" y1="165.60" x2="387.20" y2="165.60" stroke="#000" stroke-width="1.0"/>
<text x="369.39" y="168.30" font-size="7.71" textLength="13.77" lengthAdjust="spacingAndGlyphs" fill="#000" stroke="#000" stroke-width="0.05" xml:space="preserve">500</text>
<line x1="383.60" y1="182.10" x2="387.20" y2="182.10" stroke="#000" stroke-width="1.0"/>
<text x="369.39" y="184.80" font-size="7.71" textLength="13.77" lengthAdjust="spacingAndGlyphs" fill="#000" stroke="#000" stroke-width="0.05" xml:space="preserve">400</text>
<line x1="383.60" y1="198.60" x2="387.20" y2="198.60" stroke="#000" stroke-width="1.0"/>
<text x="369.39" y="201.30" font-size="7.71" textLength="13.77" lengthAdjust="spacingAndGlyphs" fill="#000" stroke="#000" stroke-width="0.05" xml:space="preserve">300</text>
<line x1="383.60" y1="215.20" x2="387.20" y2="215.20" stroke="#000" stroke-width="1.0"/>
<text x="369.39" y="217.90" font-size="7.71" textLength="13.77" lengthAdjust="spacingAndGlyphs" fill="#000" stroke="#000" stroke-width="0.05" xml:space="preserve">200</text>
<line x1="383.60" y1="231.50" x2="387.20" y2="231.50" stroke="#000" stroke-width="1.0"/>
<text x="369.39" y="234.20" font-size="7.71" textLength="13.77" lengthAdjust="spacingAndGlyphs" fill="#000" stroke="#000" stroke-width="0.05" xml:space="preserve">100</text>
<line x1="383.60" y1="248.00" x2="387.20" y2="248.00" stroke="#000" stroke-width="1.0"/>
<text x="378.55" y="250.70" font-size="7.71" textLength="4.59" lengthAdjust="spacingAndGlyphs" fill="#000" stroke="#000" stroke-width="0.05" xml:space="preserve">0</text>
<line x1="396.85" y1="215.10" x2="396.85" y2="216.00" stroke="#000" stroke-width="1.0"/>
<line x1="392.45" y1="215.10" x2="401.25" y2="215.10" stroke="#000" stroke-width="1.1"/>
<line x1="414.45" y1="203.60" x2="414.45" y2="204.10" stroke="#000" stroke-width="1.0"/>
<line x1="410.05" y1="203.60" x2="418.85" y2="203.60" stroke="#000" stroke-width="1.1"/>
<rect x="389.10" y="216.50" width="15.50" height="31.50" fill="#fff" stroke="#000" stroke-width="1.0"/>
<rect x="406.00" y="204.10" width="16.90" height="44.40" fill="#000"/>
<text x="413.03" y="205.32" font-size="13.51" font-weight="bold" textLength="5.22" lengthAdjust="spacingAndGlyphs" stroke="#000" stroke-width="0.2">*</text>
<line x1="440.65" y1="205.90" x2="440.65" y2="207.00" stroke="#000" stroke-width="1.0"/>
<line x1="436.25" y1="205.90" x2="445.05" y2="205.90" stroke="#000" stroke-width="1.1"/>
<line x1="458.65" y1="196.20" x2="458.65" y2="197.80" stroke="#000" stroke-width="1.0"/>
<line x1="454.25" y1="196.20" x2="463.05" y2="196.20" stroke="#000" stroke-width="1.1"/>
<rect x="432.90" y="207.50" width="15.50" height="40.50" fill="#fff" stroke="#000" stroke-width="1.0"/>
<rect x="450.00" y="197.80" width="17.30" height="50.70" fill="#000"/>
<text x="456.93" y="197.92" font-size="13.51" font-weight="bold" textLength="5.43" lengthAdjust="spacingAndGlyphs" stroke="#000" stroke-width="0.2">*</text>
<line x1="485.20" y1="196.40" x2="485.20" y2="197.90" stroke="#000" stroke-width="1.0"/>
<line x1="480.80" y1="196.40" x2="489.60" y2="196.40" stroke="#000" stroke-width="1.1"/>
<line x1="503.05" y1="179.80" x2="503.05" y2="180.10" stroke="#000" stroke-width="1.0"/>
<line x1="498.65" y1="179.80" x2="507.45" y2="179.80" stroke="#000" stroke-width="1.1"/>
<rect x="476.90" y="198.40" width="16.60" height="49.60" fill="#fff" stroke="#000" stroke-width="1.0"/>
<rect x="494.60" y="180.10" width="16.90" height="68.40" fill="#000"/>
<text x="501.23" y="179.35" font-size="11.08" font-weight="bold" textLength="5.33" lengthAdjust="spacingAndGlyphs" stroke="#000" stroke-width="0.2">*</text>
<rect x="391.50" y="162.00" width="12.70" height="4.80" fill="#fff" stroke="#000" stroke-width="1.2"/>
<rect x="390.90" y="172.60" width="13.90" height="7.80" fill="#000"/>
<text x="406.15" y="168.50" font-size="7.17" textLength="27.98" lengthAdjust="spacingAndGlyphs" fill="#000" stroke="#000" stroke-width="0.12" xml:space="preserve">Daf+/+</text>
<text x="406.15" y="179.70" font-size="7.17" textLength="23.58" lengthAdjust="spacingAndGlyphs" fill="#000" stroke="#000" stroke-width="0.12" xml:space="preserve">Daf-/-</text>
<text x="0" y="0" font-size="8.56" textLength="44.98" lengthAdjust="spacingAndGlyphs" stroke="#000" stroke-width="0.15" transform="translate(366.00,225.49) rotate(-90)">IFN-γ (ng/ml)</text>
<text x="404.29" y="257.40" font-size="6.52" textLength="2.33" lengthAdjust="spacingAndGlyphs" fill="#000" stroke="#000" stroke-width="0.12" xml:space="preserve">1</text>
<text x="445.45" y="257.40" font-size="6.43" textLength="8.16" lengthAdjust="spacingAndGlyphs" fill="#000" stroke="#000" stroke-width="0.12" xml:space="preserve">10</text>
<text x="488.68" y="257.40" font-size="6.43" textLength="11.63" lengthAdjust="spacingAndGlyphs" fill="#000" stroke="#000" stroke-width="0.12" xml:space="preserve">100</text>
<text x="407.40" y="267.50" font-size="8.97" textLength="85.88" lengthAdjust="spacing" fill="#000" stroke="#000" stroke-width="0.05" xml:space="preserve">OVA 257-264 (ng/ml)</text>
</svg>
</body></html>
